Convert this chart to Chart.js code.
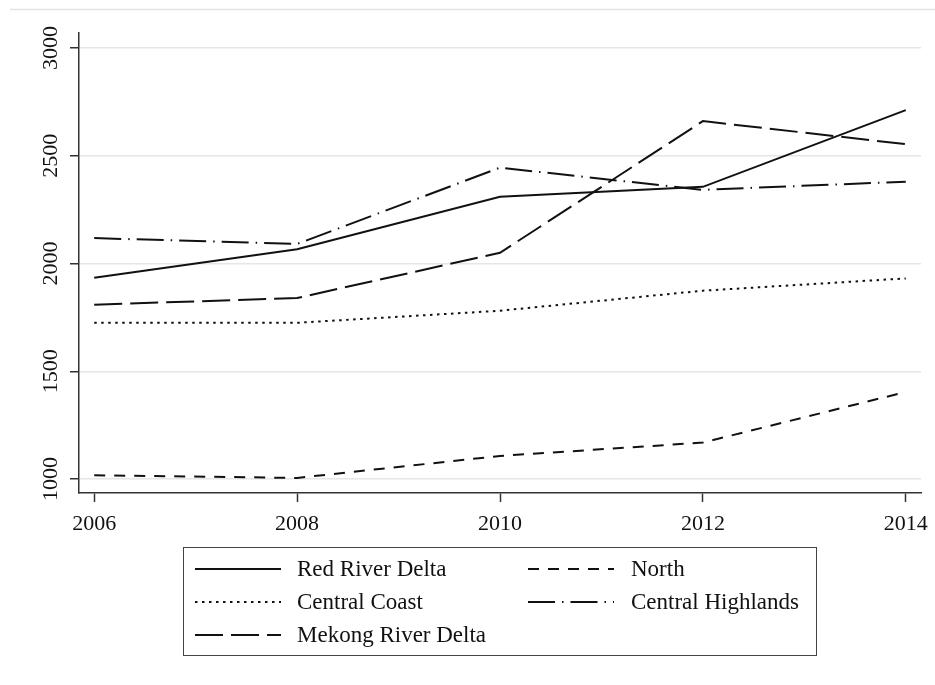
<!DOCTYPE html>
<html>
<head>
<meta charset="utf-8">
<title>Regional trends 2006-2014</title>
<script src="https://cdn.jsdelivr.net/npm/chart.js@4.4.1/dist/chart.umd.min.js"></script>
<style>
    html, body { margin: 0; padding: 0; background: #fff; }
    canvas { display: block; }
</style>
</head>
<body>
<canvas id="regions" width="935" height="685"></canvas>
<script>
// Survey years and regional values
const years = [2006, 2008, 2010, 2012, 2014];
const redRiverDelta = [1934, 2066, 2310, 2356, 2712];
const north = [1017, 1005, 1107, 1169, 1404];
const centralCoast = [1725, 1725, 1781, 1874, 1931];
const centralHighlands = [2118, 2091, 2445, 2342, 2380];
const mekongRiverDelta = [1809, 1840, 2050, 2661, 2554];
const yTicks = [1000, 1500, 2000, 2500, 3000];

const FONT = "'Liberation Serif', 'Times New Roman', serif";
const INK = "#111";

function toPoints(values) {
    return years.map((year, i) => ({ x: year, y: values[i] }));
}

const series = [
    { label: "Red River Delta", data: redRiverDelta, dash: [] },
    { label: "North", data: north, dash: [11, 9] },
    { label: "Central Coast", data: centralCoast, dash: [2.5, 4.5] },
    { label: "Central Highlands", data: centralHighlands, dash: [27, 7, 1.5, 7] },
    { label: "Mekong River Delta", data: mekongRiverDelta, dash: [28, 8] }
];

// Rotated y labels, the thin frame line on top and the boxed legend
const extras = {
    id: "extras",
    beforeDraw(chart) {
        const ctx = chart.ctx;
        ctx.save();
        ctx.strokeStyle = "#e4e4e4";
        ctx.lineWidth = 1.5;
        ctx.beginPath();
        ctx.moveTo(10, 9.5);
        ctx.lineTo(935, 9.5);
        ctx.stroke();
        ctx.restore();
    },
    afterDraw(chart) {
        const ctx = chart.ctx;
        const yScale = chart.scales.y;
        ctx.save();
        ctx.fillStyle = INK;
        ctx.font = "22px " + FONT;
        ctx.textAlign = "center";
        ctx.textBaseline = "middle";
        yTicks.forEach(v => {
            const py = yScale.getPixelForValue(v);
            ctx.save();
            ctx.translate(51, py);
            ctx.rotate(-Math.PI / 2);
            ctx.fillText(String(v), 0, 0);
            ctx.restore();
        });

        // legend box
        ctx.strokeStyle = "#444";
        ctx.lineWidth = 1;
        ctx.strokeRect(183.5, 547.5, 633, 108);
        const cols = [{ line: 195, text: 297 }, { line: 528, text: 631 }];
        const rows = [569, 602, 635];
        ctx.font = "23px " + FONT;
        ctx.textAlign = "left";
        series.forEach((s, i) => {
            const c = cols[i % 2];
            const y = rows[Math.floor(i / 2)];
            ctx.strokeStyle = INK;
            ctx.lineWidth = 2;
            ctx.setLineDash(s.dash);
            ctx.beginPath();
            ctx.moveTo(c.line, y);
            ctx.lineTo(c.line + 86, y);
            ctx.stroke();
            ctx.setLineDash([]);
            ctx.fillText(s.label, c.text, y + 1);
        });
        ctx.restore();
    }
};

const ctx = document.getElementById("regions").getContext("2d");
new Chart(ctx, {
    type: "line",
    data: {
        datasets: series.map(s => ({
            label: s.label,
            data: toPoints(s.data),
            borderColor: INK,
            borderWidth: 2,
            borderDash: s.dash,
            pointRadius: 0,
            tension: 0,
            fill: false
        }))
    },
    options: {
        responsive: false,
        animation: false,
        layout: { padding: { left: 0, top: 33, right: 14, bottom: 0 } },
        plugins: {
            legend: { display: false },
            tooltip: { enabled: false }
        },
        scales: {
            x: {
                type: "linear",
                min: 2005.85,
                max: 2014.15,
                afterBuildTicks: scale => {
                    scale.ticks = years.map(v => ({ value: v }));
                },
                afterFit: scale => {
                    // keep the plot edges fixed, the end labels may overhang
                    scale.height = 192;
                    scale.paddingLeft = 0;
                    scale.paddingRight = 0;
                },
                grid: {
                    color: "rgba(0,0,0,0)",
                    tickColor: "#333",
                    tickLength: 9,
                    tickWidth: 1.5
                },
                border: { color: "#333", width: 1.5 },
                ticks: {
                    color: INK,
                    padding: 9,
                    maxRotation: 0,
                    font: { family: FONT, size: 22 },
                    callback: v => String(v)
                }
            },
            y: {
                min: 935,
                max: 3070,
                afterBuildTicks: scale => {
                    scale.ticks = yTicks.map(v => ({ value: v }));
                },
                afterFit: scale => {
                    scale.width = 79;
                    scale.paddingTop = 0;
                    scale.paddingBottom = 0;
                },
                grid: {
                    color: "#e6e6e6",
                    lineWidth: 1.5,
                    tickColor: "#333",
                    tickLength: 9,
                    tickWidth: 1.5
                },
                border: { color: "#333", width: 1.5 },
                ticks: { display: false }
            }
        }
    },
    plugins: [extras]
});
</script>
</body>
</html>
